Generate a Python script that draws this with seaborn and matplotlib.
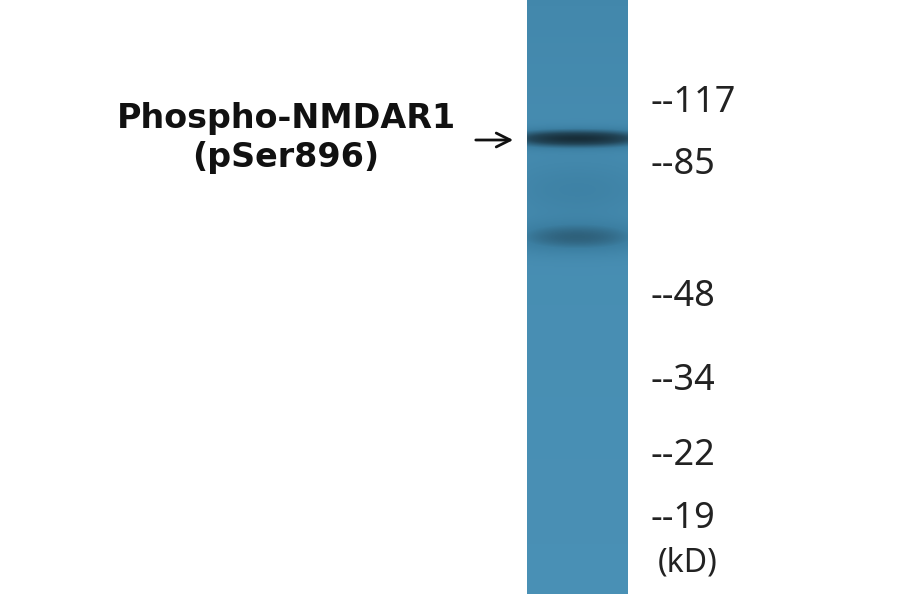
import numpy as np
import matplotlib.pyplot as plt
import seaborn as sns
from matplotlib.colors import LinearSegmentedColormap

sns.set_style("white")
plt.rcParams['font.family'] = ['Noto Sans', 'DejaVu Sans']

# marker ladder (kD) and their vertical pixel positions
marker_labels = ["117", "85", "48", "34", "22", "19"]
marker_y = [103, 165, 297, 381, 456, 519]

# bands in the lane: centre (px), darkness, half-width (px)
band_y = [138, 237, 190]
band_strength = [0.85, 0.45, 0.2]
band_width = [9, 16, 30]

target = "Phospho-NMDAR1\n(pSer896)"

W, H = 900, 594
lane_x0, lane_x1 = 527, 628

fig = plt.figure(figsize=(9, 5.94), dpi=100)
ax = fig.add_axes([0, 0, 1, 1])
ax.set_xlim(0, W)
ax.set_ylim(H, 0)
ax.axis("off")

# lane image
ys = np.arange(H)[:, None]
xs = np.linspace(-1, 1, lane_x1 - lane_x0)[None, :]
img = np.zeros((H, xs.shape[1]))
img += 0.18 * np.exp(-ys / 250.0)
for yc, s, w in zip(band_y, band_strength, band_width):
    img += s * np.exp(-((ys - yc) / w) ** 2) * (1 - 0.35 * xs ** 2)
cmap = LinearSegmentedColormap.from_list("blot", ["#4a91b6", "#3c7fa2", "#23475a", "#14262f"])
ax.imshow(img, cmap=cmap, vmin=0, vmax=1.05, aspect="auto",
          extent=(lane_x0, lane_x1, H, 0), interpolation="bilinear")

for lab, y in zip(marker_labels, marker_y):
    ax.text(650, y, "--" + lab, fontsize=26, va="center", ha="left", color="#222222")
ax.text(658, 563, "(kD)", fontsize=23, va="center", ha="left", color="#222222")

ax.text(286, 138, target, fontsize=24, fontweight="bold", va="center", ha="center",
        linespacing=1.2, color="#111111", family="DejaVu Sans")
ax.annotate("", xy=(516, 140), xytext=(473, 140),
            arrowprops=dict(arrowstyle="->", lw=2, color="#111111", mutation_scale=25))

fig.savefig("out.png", dpi=100)
